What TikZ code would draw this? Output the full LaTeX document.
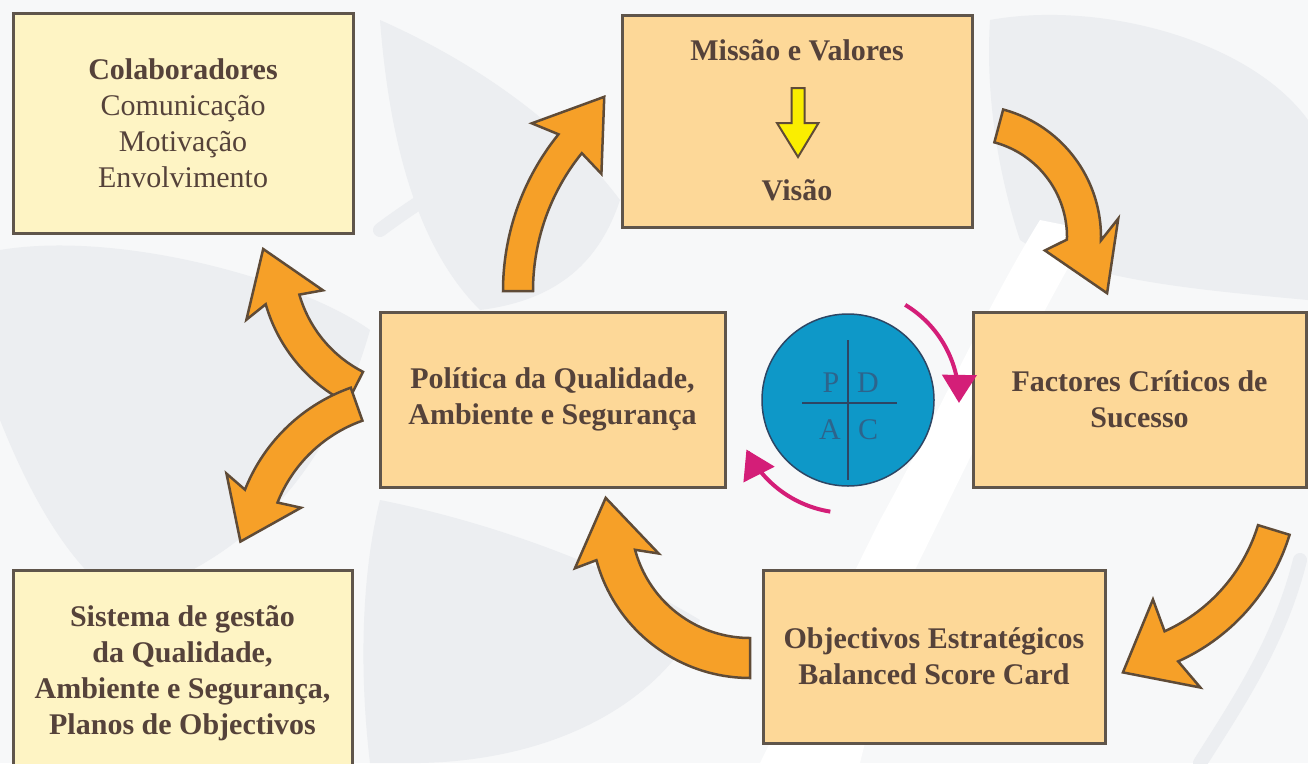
\documentclass[tikz,border=0pt]{standalone}
\usepackage{fontspec}
\setmainfont{Liberation Serif}
\usetikzlibrary{arrows.meta}
\definecolor{txt}{RGB}{85,66,58}
\definecolor{boxline}{RGB}{95,85,75}
\definecolor{obfill}{RGB}{253,216,152}
\definecolor{ybfill}{RGB}{254,244,196}
\definecolor{orarrow}{RGB}{246,160,40}
\definecolor{orline}{RGB}{95,75,55}
\definecolor{pdcablue}{RGB}{14,152,200}
\definecolor{pdcaline}{RGB}{45,70,100}
\definecolor{pdcatxt}{RGB}{45,100,140}
\definecolor{magarr}{RGB}{212,30,120}
\definecolor{yelarr}{RGB}{250,238,0}
\definecolor{bggrey}{RGB}{236,238,241}
\definecolor{bglight}{RGB}{247,248,249}
% curved block arrow: #1 cx, #2 cy, #3 R, #4 tail angle, #5 head-base angle,
% #6 body width, #7 head width, #8 head length, #9 head tilt
\newcommand{\blockarrow}[9]{%
  \pgfmathsetmacro\bsgn{(#5>#4)*2-1}%
  \pgfmathsetmacro\bth{#5+\bsgn*90+#9}%
  \pgfmathsetmacro\bro{#3+#6/2}%
  \pgfmathsetmacro\bri{#3-#6/2}%
  \pgfmathsetmacro\bbx{#1+#3*cos(#5)}%
  \pgfmathsetmacro\bby{#2+#3*sin(#5)}%
  \pgfmathsetmacro\bout{\bth-\bsgn*90}%
  \filldraw[bigarrow] plot[domain=#4:#5,samples=40] ({#1+\bro*cos(\x)},{#2+\bro*sin(\x)})
    -- ({\bbx+#7/2*cos(\bout)-6*cos(\bth)},{\bby+#7/2*sin(\bout)-6*sin(\bth)})
    -- ({\bbx+#8*cos(\bth)},{\bby+#8*sin(\bth)})
    -- ({\bbx-#7/2*cos(\bout)-6*cos(\bth)},{\bby-#7/2*sin(\bout)-6*sin(\bth)})
    -- plot[domain=#5:#4,samples=40] ({#1+\bri*cos(\x)},{#2+\bri*sin(\x)}) -- cycle;
}
\tikzset{
  bigarrow/.style={fill=orarrow, draw=orline, line width=2.5pt, line join=miter},
  boxbase/.style={rectangle, draw=boxline, line width=3pt, inner sep=0pt, text=txt, align=center,
    font=\fontsize{30}{36}\selectfont},
  obox/.style={boxbase, fill=obfill},
  ybox/.style={boxbase, fill=ybfill},
  boxtext/.style={inner sep=0pt, text=txt, align=center, font=\fontsize{30}{36}\selectfont\bfseries},
  magarrow/.style={line width=4pt, draw=magarr, -{Triangle[length=28pt,width=34pt]}},
  pdcaletter/.style={inner sep=0pt, text=pdcatxt, font=\fontsize{30}{36}\selectfont},
  leaf/.style={fill=bggrey, draw=none},
  vein/.style={draw=bggrey, line width=14pt, line cap=round},
}
\begin{document}
\begin{tikzpicture}[x=1pt,y=-1pt]
\useasboundingbox (0,0) rectangle (1308,763);
\clip (0,0) rectangle (1308,763);
\fill[bglight] (0,0) rectangle (1308,763);

% faint leaf watermark in the background
\fill[leaf] (0,250) .. controls (120,230) and (300,280) .. (370,330)
  .. controls (330,470) and (250,560) .. (120,600) .. controls (60,560) and (20,470) .. (0,420) -- cycle;
\fill[leaf] (380,20) .. controls (470,60) and (560,120) .. (620,200)
  .. controls (600,260) and (560,300) .. (480,310) .. controls (420,250) and (390,150) .. (380,20) -- cycle;
\fill[leaf] (990,20) .. controls (1100,0) and (1250,40) .. (1308,120) -- (1308,300)
  .. controls (1200,290) and (1080,280) .. (1020,240) .. controls (1000,180) and (985,100) .. (990,20) -- cycle;
\fill[leaf] (380,500) .. controls (480,520) and (600,560) .. (700,620)
  .. controls (660,700) and (560,760) .. (420,763) -- (370,763) .. controls (360,680) and (360,580) .. (380,500) -- cycle;
\fill[white] (760,763) -- (880,520) .. controls (930,430) and (990,300) .. (1040,220)
  -- (1090,230) .. controls (1030,330) and (960,480) .. (900,600) -- (860,763) -- cycle;
\draw[vein] (1200,763) .. controls (1240,700) and (1280,640) .. (1300,560);
\draw[vein] (380,230) .. controls (420,200) and (470,170) .. (540,130);

% boxes
\node[ybox, minimum width=340pt, minimum height=220pt] (colab) at (183,123)
  {\textbf{Colaboradores}\\Comunicação\\Motivação\\Envolvimento};
\node[obox, minimum width=350pt, minimum height=212pt] (mis) at (797,121) {};
\node[boxtext] (mistxt) at (797,50) {Missão e Valores};
\node[boxtext] (vistxt) at (797,190) {Visão};
\node[obox, minimum width=345pt, minimum height=175pt] (pol) at (552.5,399.5)
  {\textbf{Política da Qualidade,}\\\textbf{Ambiente e Segurança}};
\node[obox, minimum width=333pt, minimum height=175pt] (fac) at (1139.5,399.5)
  {\textbf{Factores Críticos de}\\\textbf{Sucesso}};
\node[obox, minimum width=342pt, minimum height=173pt] (obj) at (934,656.5)
  {\textbf{Objectivos Estratégicos}\\\textbf{Balanced Score Card}};
\node[ybox, minimum width=339pt, minimum height=206pt] (sis) at (182.5,673)
  {\textbf{Sistema de gestão}\\\textbf{da Qualidade,}\\\textbf{Ambiente e Segurança,}\\\textbf{Planos de Objectivos}};

% yellow arrow inside Missao box
\coordinate (ya) at (798,88);
\filldraw[fill=yelarr, draw=orline, line width=2pt, line join=miter]
  (ya) ++(-6.5,0) -- ++(13,0) -- ++(0,35) -- ++(14,0) -- (798,157) -- (777,123) -- ++(14.5,0) -- cycle;

% big orange curved arrows
\blockarrow{752}{291}{234}{180}{219}{30}{86}{58}{-3}     % Politica -> Missao
\blockarrow{969}{237}{115}{-75}{1.5}{34}{80}{58}{-25}    % Missao -> Factores
\blockarrow{1094}{475}{188}{17}{65.7}{33}{100}{55}{-4}   % Factores -> Objectivos
\blockarrow{750}{519}{139}{90}{165}{40}{85}{58}{5}       % Objectivos -> Politica
\blockarrow{420}{260}{143}{117}{164}{35}{82}{54}{-5}     % Politica -> Colaboradores
\blockarrow{410}{555}{160}{250.5}{201.6}{35}{82}{50}{3}  % Politica -> Sistema

% PDCA circle
\node[circle, fill=pdcablue, draw=pdcaline, line width=1.5pt, minimum size=172pt, inner sep=0pt] (pdca) at (848,400) {};
\draw[pdcaline, line width=2pt] (848,340) -- (848,480);
\draw[pdcaline, line width=2pt] (802,403) -- (897,403);
\node[pdcaletter] (p) at (831,383) {P};
\node[pdcaletter] (d) at (868,383) {D};
\node[pdcaletter] (a) at (830,430) {A};
\node[pdcaletter] (c) at (868,430) {C};

% magenta arrows
\draw[magarrow] plot[domain=-59:1.5,samples=40] ({848+111*cos(\x)},{400+111*sin(\x)});
\draw[magarrow] plot[domain=99:154,samples=40] ({848+113*cos(\x)},{400+113*sin(\x)});
\end{tikzpicture}
\end{document}
